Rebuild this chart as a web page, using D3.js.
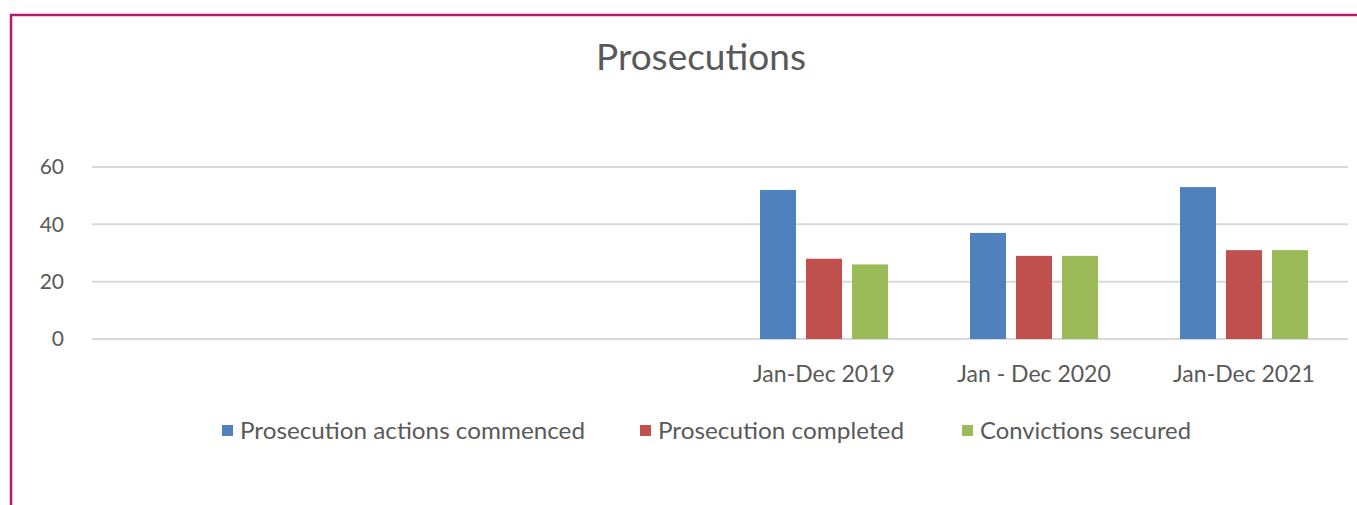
<!DOCTYPE html>
<html><head><meta charset="utf-8">
<script src="https://cdn.jsdelivr.net/npm/d3@7"></script>
<style>body{margin:0;background:#fff;}svg{display:block;}</style>
</head><body>
<svg id="c" width="1357" height="505"></svg>
<script>
const categories = ["", "", "", "Jan-Dec 2019", "Jan - Dec 2020", "Jan-Dec 2021"];
const seriesNames = ["Prosecution actions commenced", "Prosecution completed", "Convictions secured"];
const commenced = [null, null, null, 52, 37, 53];
const completed = [null, null, null, 28, 29, 31];
const convictions = [null, null, null, 26, 29, 31];
const seriesColors = ["#4f81bd", "#c0504d", "#9bbb59"];
const yTicks = [0, 20, 40, 60];
const title = "Prosecutions";

const seriesValues = [commenced, completed, convictions];
const FONT = "Lato, 'Open Sans', sans-serif";
const svg = d3.select("#c");

// frame
svg.append("path").attr("d", "M11,505 L11,15 L1357,15")
  .attr("fill", "none").attr("stroke", "#b31b6e").attr("stroke-width", 2.5);

const x0 = d3.scaleBand().domain(d3.range(categories.length)).range([89, 1349]).padding(0);
const x1 = d3.scaleBand().domain(d3.range(seriesNames.length))
  .range([41, x0.bandwidth() - 41]).paddingInner(0.217).paddingOuter(0);
const y = d3.scaleLinear().domain([0, 60]).range([339, 167]);

// gridlines
svg.append("g").selectAll("line").data(yTicks).join("line")
  .attr("x1", 92).attr("x2", 1348)
  .attr("y1", d => y(d)).attr("y2", d => y(d))
  .attr("stroke", "#d9d9d9").attr("stroke-width", 2);

// y axis labels
const yAxis = d3.axisLeft(y).tickValues(yTicks).tickSize(0).tickPadding(0);
const gy = svg.append("g").attr("transform", "translate(64,0)").call(yAxis);
gy.select(".domain").remove();
gy.selectAll("text").attr("font-family", FONT).attr("font-size", 21).attr("fill", "#595959");

// bars
const groups = svg.append("g").selectAll("g").data(categories.map((c, i) => i)).join("g")
  .attr("transform", i => `translate(${x0(i)},0)`);
groups.selectAll("rect")
  .data(i => seriesValues.map((s, k) => ({k, v: s[i]})).filter(d => d.v != null))
  .join("rect")
  .attr("x", d => x1(d.k)).attr("width", x1.bandwidth())
  .attr("y", d => y(d.v)).attr("height", d => y(0) - y(d.v))
  .attr("fill", d => seriesColors[d.k]);

// x axis labels
const xAxis = d3.axisBottom(x0).tickFormat(i => categories[i]).tickSize(0).tickPadding(0);
const gx = svg.append("g").attr("transform", "translate(0,366)").call(xAxis);
gx.select(".domain").remove();
gx.selectAll("text").attr("font-family", FONT).attr("font-size", 23).attr("fill", "#595959");

// title
svg.append("text").attr("x", 701).attr("y", 69.5).attr("text-anchor", "middle")
  .attr("font-family", FONT).attr("font-size", 37).attr("fill", "#595959").text(title);

// legend
const legendX = [222, 640, 962];
const legendW = [345, 246, 211];
const lg = svg.append("g").selectAll("g").data(seriesNames).join("g")
  .attr("transform", (d, i) => `translate(${legendX[i]},425)`);
lg.append("rect").attr("width", 11).attr("height", 11).attr("fill", (d, i) => seriesColors[i]);
lg.append("text").attr("x", 18).attr("y", 5.5).attr("dy", "0.36em")
  .attr("font-family", FONT).attr("font-size", 23).attr("fill", "#595959")
  .attr("textLength", (d, i) => legendW[i]).attr("lengthAdjust", "spacingAndGlyphs")
  .text(d => d);
</script>
</body></html>
